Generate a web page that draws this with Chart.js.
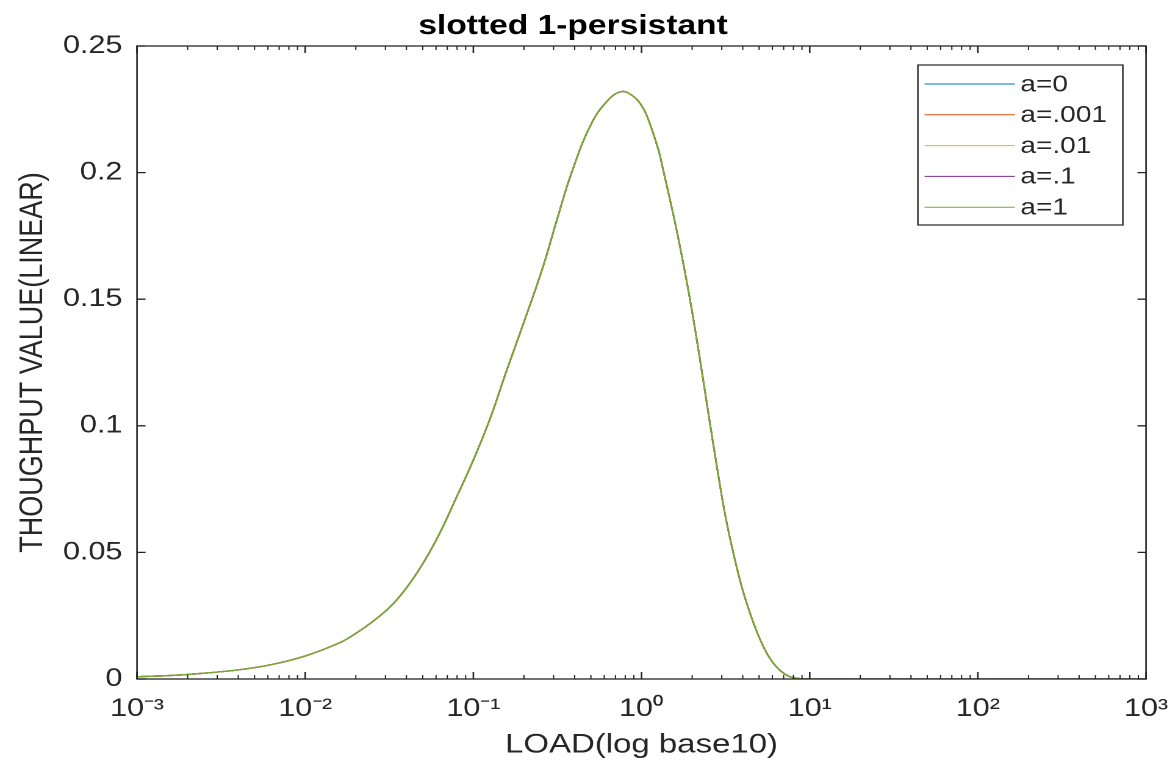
<!DOCTYPE html>
<html>
<head>
<meta charset="utf-8">
<script src="https://cdn.jsdelivr.net/npm/chart.js@4/dist/chart.umd.min.js"></script>
<style>
html, body { margin: 0; padding: 0; background: #fff; overflow: hidden; }
/* the original figure is stretched sideways, so the whole canvas is too */
#wrap { width: 963px; height: 773px; transform: scaleX(1.2201); transform-origin: 0 0; }
</style>
</head>
<body>
<div id="wrap"><canvas id="myChart" width="963" height="773"></canvas></div>
<script>
// values (all five curves lie on top of each other)
const load = [0.001, 0.0016, 0.0025, 0.004, 0.0063, 0.01, 0.016, 0.02, 0.025, 0.032,
  0.04, 0.05, 0.063, 0.079, 0.1, 0.126, 0.158, 0.2, 0.26, 0.316,
  0.384, 0.5, 0.63, 0.76, 0.89, 1.0, 1.09, 1.26, 1.34, 1.585,
  1.82, 2.0, 2.24, 2.51, 2.82, 3.16, 3.55, 3.98, 4.47, 5.0,
  5.6, 6.3, 7.1, 7.9, 10, 100, 1000];
const throughput = [0.0009, 0.0014, 0.0023, 0.0036, 0.0057, 0.0091, 0.0143, 0.018, 0.0225, 0.0285,
  0.036, 0.0455, 0.0575, 0.0715, 0.0865, 0.103, 0.122, 0.141, 0.163, 0.182,
  0.2, 0.219, 0.2285, 0.232, 0.2302, 0.2265, 0.2215, 0.209, 0.2015, 0.18,
  0.16, 0.145, 0.125, 0.104, 0.083, 0.064, 0.0485, 0.0355, 0.025, 0.0165,
  0.0098, 0.005, 0.002, 0.0006, 0, 0, 0];

const seriesNames = ["a=0", "a=.001", "a=.01", "a=.1", "a=1"];
const seriesColors = ["#0072BD", "#D95319", "#EDB120", "#7E2F8E", "#77AC30"];

const xTicks = [0.001, 0.01, 0.1, 1, 10, 100, 1000];
const xTickLabels = ["10⁻³", "10⁻²", "10⁻¹", "10⁰", "10¹", "10²", "10³"];
const yTicks = [0, 0.05, 0.1, 0.15, 0.2, 0.25];
const yTickLabels = ["0", "0.05", "0.1", "0.15", "0.2", "0.25"];

const FONT = "'Liberation Sans', Arial, Helvetica, sans-serif";
const AXIS = "#262626";

// box, inward ticks and legend, drawn MATLAB style
const matlabAxes = {
  id: "matlabAxes",
  afterDatasetsDraw(chart) {
    const { ctx, chartArea: a, scales: { x, y } } = chart;
    ctx.save();
    ctx.strokeStyle = AXIS;

    ctx.lineWidth = 1;
    ctx.beginPath();
    for (let i = 0; i < xTicks.length - 1; i++) {
      for (let m = 2; m < 10; m++) {
        const px = x.getPixelForValue(xTicks[i] * m);
        ctx.moveTo(px, a.bottom); ctx.lineTo(px, a.bottom - 4);
        ctx.moveTo(px, a.top); ctx.lineTo(px, a.top + 4);
      }
    }
    ctx.stroke();

    ctx.lineWidth = 1.3;
    ctx.beginPath();
    xTicks.forEach(v => {
      const px = x.getPixelForValue(v);
      ctx.moveTo(px, a.bottom); ctx.lineTo(px, a.bottom - 7);
      ctx.moveTo(px, a.top); ctx.lineTo(px, a.top + 7);
    });
    yTicks.forEach(v => {
      const py = y.getPixelForValue(v);
      ctx.moveTo(a.left, py); ctx.lineTo(a.left + 7, py);
      ctx.moveTo(a.right, py); ctx.lineTo(a.right - 7, py);
    });
    ctx.stroke();
    ctx.strokeRect(a.left, a.top, a.right - a.left, a.bottom - a.top);
    ctx.restore();
  },
  afterDraw(chart) {
    const { ctx, chartArea: a } = chart;
    const w = 168, h = 160;
    const left = a.right - 19 - w, top = a.top + 19;
    ctx.save();
    ctx.fillStyle = "#fff";
    ctx.fillRect(left, top, w, h);
    ctx.strokeStyle = AXIS;
    ctx.lineWidth = 1.2;
    ctx.strokeRect(left, top, w, h);
    ctx.font = "23px " + FONT;
    ctx.textBaseline = "middle";
    chart.data.datasets.forEach((ds, i) => {
      const ry = top + 19 + i * 30.8;
      ctx.strokeStyle = ds.borderColor;
      ctx.lineWidth = 1;
      ctx.beginPath();
      ctx.moveTo(left + 5.5, ry); ctx.lineTo(left + 79.5, ry);
      ctx.stroke();
      ctx.fillStyle = AXIS;
      ctx.fillText(ds.label, left + 84, ry + 1);
    });
    ctx.restore();
  }
};

const ctx = document.getElementById("myChart");

let chart = new Chart(ctx, {
  type: "line",
  data: {
    datasets: seriesNames.map((name, i) => ({
      label: name,
      data: load.map((g, k) => ({ x: g, y: throughput[k] })),
      borderColor: seriesColors[i],
      borderWidth: 1.3,
      pointRadius: 0,
      fill: false,
      tension: 0.4,
      order: seriesNames.length - 1 - i
    }))
  },
  options: {
    responsive: false,
    animation: false,
    devicePixelRatio: 2,
    layout: { padding: { left: 0, right: 23.7, top: 0, bottom: 0 } },
    plugins: {
      legend: { display: false },
      tooltip: { enabled: false },
      title: {
        display: true,
        text: "slotted 1-persistant",
        color: "#000",
        font: { family: FONT, size: 27.5, weight: "bold" },
        padding: { top: 10, bottom: 3 }
      }
    },
    scales: {
      x: {
        type: "logarithmic",
        min: 0.001,
        max: 1000,
        afterBuildTicks: s => { s.ticks = xTicks.map(v => ({ value: v })); },
        afterFit: s => { s.height = 94; },
        ticks: {
          callback: (v, i) => xTickLabels[i],
          autoSkip: false,
          maxRotation: 0,
          padding: 0,
          color: AXIS,
          font: { family: FONT, size: 25 }
        },
        grid: { display: false, drawTicks: true, tickLength: 15 },
        border: { display: false },
        title: {
          display: true,
          text: "LOAD(log base10)",
          color: AXIS,
          font: { family: FONT, size: 27 },
          padding: { top: 0, bottom: 12 }
        }
      },
      y: {
        min: 0,
        max: 0.25,
        afterBuildTicks: s => { s.ticks = yTicks.map(v => ({ value: v })); },
        afterFit: s => { s.width = 112.3; },
        ticks: {
          callback: (v, i) => yTickLabels[i],
          padding: 0,
          color: AXIS,
          font: { family: FONT, size: 25 }
        },
        grid: { display: false, drawTicks: true, tickLength: 12 },
        border: { display: false },
        title: {
          display: true,
          text: "THOUGHPUT VALUE(LINEAR)",
          color: AXIS,
          font: { family: FONT, size: 27 },
          padding: { top: 11, bottom: 0 }
        }
      }
    }
  },
  plugins: [matlabAxes]
});
</script>
</body>
</html>
